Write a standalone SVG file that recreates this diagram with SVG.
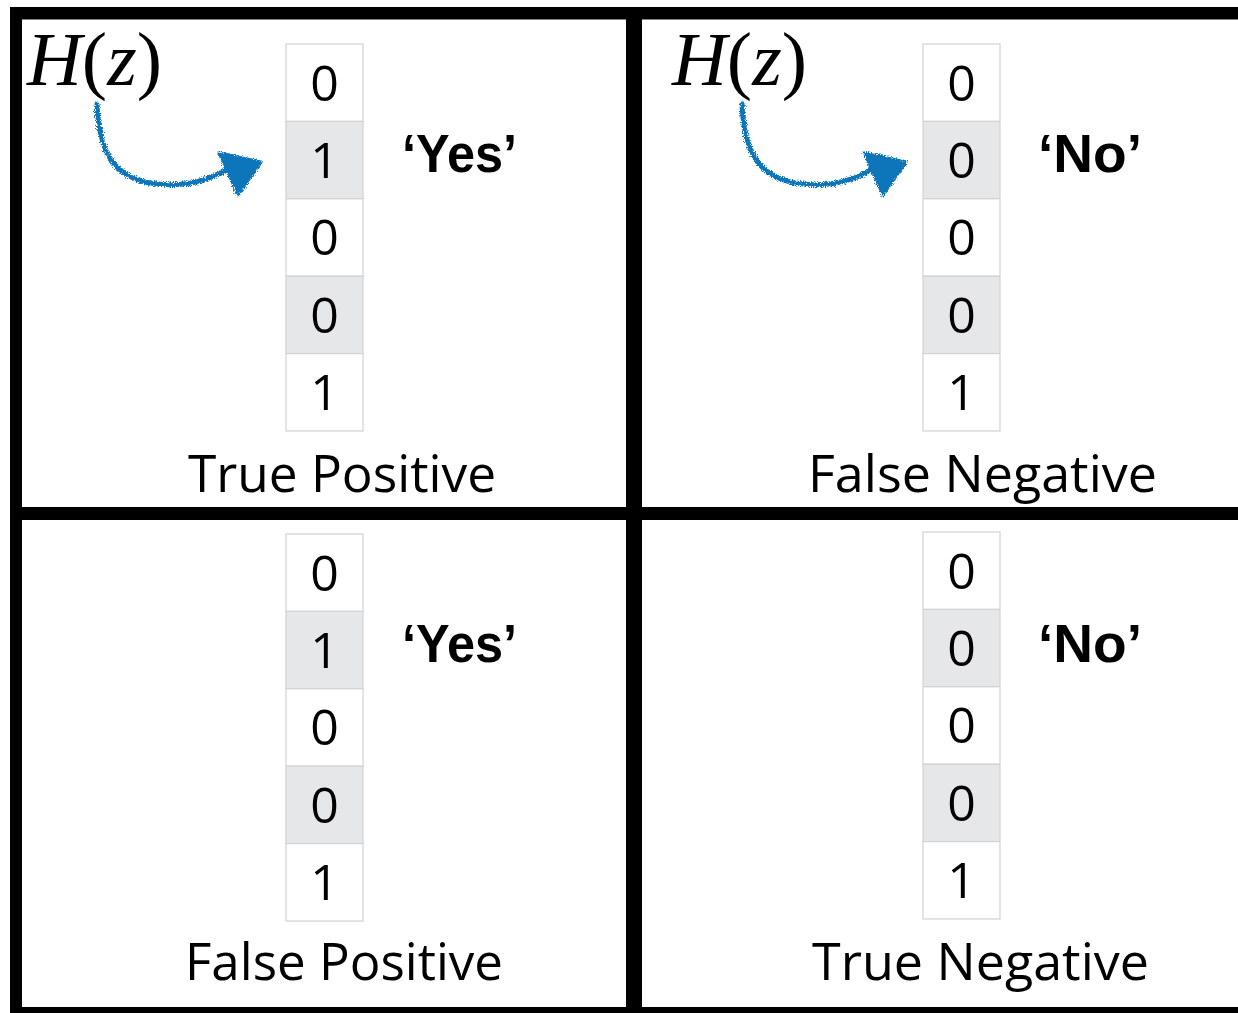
<svg xmlns="http://www.w3.org/2000/svg" width="1238" height="1013" viewBox="0 0 1238 1013">
<style>
.cell{stroke:#d1d3d4;stroke-width:1.2}
.w{fill:#ffffff}
.g{fill:#e6e7e9}
.bit{font-family:"Open Sans","Noto Sans",sans-serif;font-size:50px;fill:#000;text-anchor:middle}
.lbl{font-family:"Liberation Sans",Arial,sans-serif;font-weight:bold;font-size:54px;fill:#000}
.cap{font-family:"Open Sans","Noto Sans",sans-serif;font-size:52px;fill:#000}
.hz{font-family:"Liberation Serif","Times New Roman",serif;font-size:77px;fill:#000}
.bar{fill:#000}
.arr{fill:none;stroke:#0b74b9;stroke-width:5;stroke-linecap:round}
.head{fill:#0b74b9;stroke:#0b74b9;stroke-width:3;stroke-linejoin:round}
</style>
<defs>
<filter id="rough" x="-20%" y="-20%" width="140%" height="140%">
<feTurbulence type="fractalNoise" baseFrequency="0.9" numOctaves="2" seed="5" result="n"/>
<feDisplacementMap in="SourceGraphic" in2="n" scale="6" xChannelSelector="R" yChannelSelector="G"/>
</filter>
</defs>
<rect width="1238" height="1013" fill="#fff"/>

<g id="frame">
<rect class="bar" x="10" y="7" width="1228" height="12.5"/>
<rect class="bar" x="10" y="7" width="12" height="1006"/>
<rect class="bar" x="626" y="7" width="16" height="1006"/>
<rect class="bar" x="10" y="507" width="1228" height="13"/>
<rect class="bar" x="10" y="1007" width="1228" height="6"/>
</g>

<g id="tp">
<rect class="cell w" x="286" y="44" width="77" height="77.4"/>
<rect class="cell g" x="286" y="121.4" width="77" height="77.4"/>
<rect class="cell w" x="286" y="198.8" width="77" height="77.4"/>
<rect class="cell g" x="286" y="276.2" width="77" height="77.4"/>
<rect class="cell w" x="286" y="353.6" width="77" height="77.4"/>
<text class="bit" x="324.5" y="100.5">0</text>
<text class="bit" x="324.5" y="177.9">1</text>
<text class="bit" x="324.5" y="255.3">0</text>
<text class="bit" x="324.5" y="332.7">0</text>
<text class="bit" x="324.5" y="410.1">1</text>
<text class="lbl" x="402" y="172" textLength="115" lengthAdjust="spacingAndGlyphs">‘Yes’</text>
<text class="cap" x="188" y="492" textLength="308" lengthAdjust="spacingAndGlyphs">True Positive</text>
<text class="hz" x="27" y="85" textLength="135" lengthAdjust="spacingAndGlyphs"><tspan font-style="italic">H</tspan>(<tspan font-style="italic">z</tspan>)</text>
</g>

<g id="fn">
<rect class="cell w" x="923" y="44" width="77" height="77.4"/>
<rect class="cell g" x="923" y="121.4" width="77" height="77.4"/>
<rect class="cell w" x="923" y="198.8" width="77" height="77.4"/>
<rect class="cell g" x="923" y="276.2" width="77" height="77.4"/>
<rect class="cell w" x="923" y="353.6" width="77" height="77.4"/>
<text class="bit" x="961.5" y="100.5">0</text>
<text class="bit" x="961.5" y="177.9">0</text>
<text class="bit" x="961.5" y="255.3">0</text>
<text class="bit" x="961.5" y="332.7">0</text>
<text class="bit" x="961.5" y="410.1">1</text>
<text class="lbl" x="1038" y="172" textLength="104" lengthAdjust="spacingAndGlyphs">‘No’</text>
<text class="cap" x="808" y="492" textLength="349" lengthAdjust="spacingAndGlyphs">False Negative</text>
<text class="hz" x="672" y="85" textLength="135" lengthAdjust="spacingAndGlyphs"><tspan font-style="italic">H</tspan>(<tspan font-style="italic">z</tspan>)</text>
</g>

<g id="fp">
<rect class="cell w" x="286" y="534" width="77" height="77.4"/>
<rect class="cell g" x="286" y="611.4" width="77" height="77.4"/>
<rect class="cell w" x="286" y="688.8" width="77" height="77.4"/>
<rect class="cell g" x="286" y="766.2" width="77" height="77.4"/>
<rect class="cell w" x="286" y="843.6" width="77" height="77.4"/>
<text class="bit" x="324.5" y="590.5">0</text>
<text class="bit" x="324.5" y="667.9">1</text>
<text class="bit" x="324.5" y="745.3">0</text>
<text class="bit" x="324.5" y="822.7">0</text>
<text class="bit" x="324.5" y="900.1">1</text>
<text class="lbl" x="402" y="662" textLength="115" lengthAdjust="spacingAndGlyphs">‘Yes’</text>
<text class="cap" x="185" y="980" textLength="318" lengthAdjust="spacingAndGlyphs">False Positive</text>
</g>

<g id="tn">
<rect class="cell w" x="923" y="532" width="77" height="77.4"/>
<rect class="cell g" x="923" y="609.4" width="77" height="77.4"/>
<rect class="cell w" x="923" y="686.8" width="77" height="77.4"/>
<rect class="cell g" x="923" y="764.2" width="77" height="77.4"/>
<rect class="cell w" x="923" y="841.6" width="77" height="77.4"/>
<text class="bit" x="961.5" y="588.5">0</text>
<text class="bit" x="961.5" y="665.9">0</text>
<text class="bit" x="961.5" y="743.3">0</text>
<text class="bit" x="961.5" y="820.7">0</text>
<text class="bit" x="961.5" y="898.1">1</text>
<text class="lbl" x="1038" y="662" textLength="104" lengthAdjust="spacingAndGlyphs">‘No’</text>
<text class="cap" x="812" y="980" textLength="337" lengthAdjust="spacingAndGlyphs">True Negative</text>
</g>

<g id="connectors" filter="url(#rough)">
<path class="arr" d="M97,104 C99,150 112,176 150,183 C180,188 205,182 226,170"/>
<polygon class="head" points="219,153 261,162 238,195"/>
<path class="arr" d="M742,104 C744,150 757,176 795,183 C825,188 850,182 871,170"/>
<polygon class="head" points="864,153 906,162 883,195"/>
</g>
</svg>
